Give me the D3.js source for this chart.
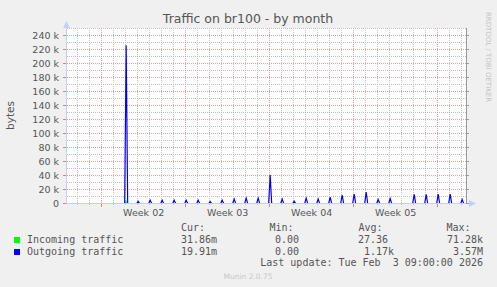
<!DOCTYPE html>
<html>
<head>
<meta charset="utf-8">
<script src="https://cdn.jsdelivr.net/npm/d3@7"></script>
<style>
  body { margin: 0; background: #f0f0f0; }
  text { font-family: "DejaVu Sans", sans-serif; fill: #555; }
  .mono { font-family: "DejaVu Sans Mono", monospace; }
</style>
</head>
<body>
<svg width="497" height="287"></svg>
<script>
// time window of the graph and week labels
var timeStart = new Date('2026-01-02T02:40:00Z'),
  timeEnd = new Date('2026-02-04T10:40:00Z');
var weekStarts = ['2026-01-05', '2026-01-12', '2026-01-19', '2026-01-26', '2026-02-02'];
var weekLabels = ['Week 02', 'Week 03', 'Week 04', 'Week 05'];
var yTicks = [0, 20000, 40000, 60000, 80000, 100000, 120000, 140000, 160000, 180000, 200000, 220000, 240000];

// daily peaks (at 01:00), bytes
var peakDays = ['01-07', '01-08', '01-09', '01-10', '01-11', '01-12', '01-13', '01-14', '01-15',
  '01-16', '01-17', '01-18', '01-19', '01-20', '01-21', '01-22', '01-23', '01-24', '01-25',
  '01-26', '01-27', '01-28', '01-29', '01-30', '01-31', '02-01', '02-02', '02-03', '02-04'];
var outgoing = [226000, 3000, 4800, 4800, 4800, 4800, 4800, 2900, 4800,
  6200, 7600, 7600, 40500, 6200, 3300, 7600, 6200, 9000, 11900,
  13300, 16200, 5700, 7100, 0, 12900, 12900, 13500, 13500, 5700];
var incoming = [3000, 0, 0, 0, 0, 0, 0, 0, 0,
  0, 0, 0, 0, 0, 0, 0, 0, 0, 0,
  0, 0, 0, 0, 0, 0, 0, 0, 0, 0];

var legendRows = [
  {name: 'Incoming traffic', color: '#00ff00', cur: '31.86m', min: '0.00', avg: '27.36', max: '71.28k'},
  {name: 'Outgoing traffic', color: '#0000ff', cur: '19.91m', min: '0.00', avg: ' 1.17k', max: ' 3.57M'}
];

var svg = d3.select('svg'),
  W = +svg.attr('width'),
  H = +svg.attr('height');

var x = d3.scaleUtc().domain([timeStart, timeEnd]).range([67, 467]);
var y = d3.scaleLinear().domain([0, 250000]).range([203.5, 28.5]);
var snap = function(v) { return Math.round(v - 0.5) + 0.5; };

// canvas
svg.append('rect').attr('x', 67).attr('y', 28).attr('width', 400).attr('height', 176).attr('fill', '#fff');

// grid
var grid = svg.append('g');
d3.range(10000, 250001, 10000).forEach(function(v) {
  var major = v % 20000 === 0;
  grid.append('line')
    .attr('x1', 67).attr('x2', 467).attr('y1', y(v)).attr('y2', y(v))
    .attr('stroke', major ? '#e3a0a0' : '#c0c0c0').attr('stroke-dasharray', '1,1');
});
var weekDates = weekStarts.map(function(s) { return new Date(s + 'T00:00:00Z'); });
d3.utcDay.range(d3.utcDay.ceil(timeStart), timeEnd).forEach(function(d) {
  var major = weekDates.some(function(w) { return +w === +d; });
  var xx = snap(x(d));
  grid.append('line')
    .attr('x1', xx).attr('x2', xx).attr('y1', 28).attr('y2', 203)
    .attr('stroke', major ? '#e3a0a0' : '#c0c0c0').attr('stroke-dasharray', '1,1');
  grid.append('line')
    .attr('x1', xx).attr('x2', xx).attr('y1', 204).attr('y2', major ? 207 : 205)
    .attr('stroke', major ? '#e08080' : '#c0c0c0');
});

// series
function series(vals) {
  var pts = [[timeStart, 0]];
  peakDays.forEach(function(d, i) {
    var t = new Date('2026-' + d + 'T01:00:00Z');
    pts.push([d3.utcHour.offset(t, -3), 0], [t, vals[i]], [d3.utcHour.offset(t, 3), 0]);
  });
  pts.push([timeEnd, 0]);
  return pts;
}
var line = d3.line().x(function(d) { return x(d[0]); }).y(function(d) { return y(d[1]); });
svg.append('path').datum(series(incoming)).attr('d', line)
  .attr('fill', 'none').attr('stroke', legendRows[0].color).attr('stroke-width', 1.2);
svg.append('path').datum(series(outgoing)).attr('d', line)
  .attr('fill', 'none').attr('stroke', legendRows[1].color).attr('stroke-width', 1.2);

// axes and frame
var axisCol = '#c8cff6';
svg.append('line').attr('x1', 66.5).attr('x2', 66.5).attr('y1', 26).attr('y2', 204).attr('stroke', axisCol);
svg.append('line').attr('x1', 66).attr('x2', 470).attr('y1', 203.5).attr('y2', 203.5).attr('stroke', axisCol);
svg.append('path').attr('d', 'M63,28L66.5,21L70,28Z').attr('fill', axisCol);
svg.append('path').attr('d', 'M469,200L476,203.5L469,207Z').attr('fill', axisCol);
svg.append('line').attr('x1', 466.5).attr('x2', 466.5).attr('y1', 28).attr('y2', 204).attr('stroke', '#999');
yTicks.forEach(function(v) {
  svg.append('line').attr('x1', 467).attr('x2', 469).attr('y1', snap(y(v))).attr('y2', snap(y(v))).attr('stroke', '#999');
  svg.append('line').attr('x1', 63).attr('x2', 66).attr('y1', snap(y(v))).attr('y2', snap(y(v))).attr('stroke', '#e08080');
});

// tick labels
svg.append('g').selectAll('text').data(yTicks).enter().append('text')
  .attr('x', 59).attr('y', function(d) { return y(d) + 3.5; })
  .attr('text-anchor', 'end').attr('font-size', 9.5)
  .text(function(d) { return d === 0 ? '0' : d / 1000 + ' k'; });
svg.append('g').selectAll('text').data(weekLabels).enter().append('text')
  .attr('x', function(d, i) { return x(new Date((+weekDates[i] + +weekDates[i + 1]) / 2)); })
  .attr('y', 216).attr('text-anchor', 'middle').attr('font-size', 9.5)
  .text(function(d) { return d; });

// titles
svg.append('text').attr('x', 248).attr('y', 23).attr('text-anchor', 'middle')
  .attr('font-size', 12.5).text('Traffic on br100 - by month');
svg.append('text').attr('transform', 'translate(14,115.5) rotate(-90)')
  .attr('text-anchor', 'middle').attr('font-size', 10.5).text('bytes');
svg.append('text').attr('transform', 'translate(486,57) rotate(90)')
  .attr('text-anchor', 'middle').attr('font-size', 7).style('fill', '#c4c4c4')
  .text('RRDTOOL / TOBI OETIKER');

// legend
var lg = svg.append('g').attr('class', 'mono').attr('font-size', 10);
var headers = [['Cur:', 181], ['Min:', 269.5], ['Avg:', 358.5], ['Max:', 446.5]];
headers.forEach(function(h) {
  lg.append('text').attr('class', 'mono').attr('x', h[1]).attr('y', 231).text(h[0]);
});
legendRows.forEach(function(r, i) {
  var yy = 243 + i * 12;
  lg.append('rect').attr('x', 14).attr('y', yy - 6).attr('width', 6).attr('height', 6).attr('fill', r.color);
  lg.append('text').attr('class', 'mono').attr('x', 27).attr('y', yy).text(r.name);
  lg.append('text').attr('class', 'mono').attr('x', 181).attr('y', yy).text(r.cur);
  lg.append('text').attr('class', 'mono').attr('x', 299).attr('y', yy).attr('text-anchor', 'end').text(r.min);
  lg.append('text').attr('class', 'mono').attr('x', 394).attr('y', yy).attr('text-anchor', 'end')
    .style('white-space', 'pre').text(r.avg + (r.avg.slice(-1) === 'k' ? '' : ' '));
  lg.append('text').attr('class', 'mono').attr('x', 483).attr('y', yy).attr('text-anchor', 'end')
    .style('white-space', 'pre').text(r.max);
});
lg.append('text').attr('class', 'mono').attr('x', 483).attr('y', 266).attr('text-anchor', 'end')
  .style('white-space', 'pre').text('Last update: Tue Feb  3 09:00:00 2026');
svg.append('text').attr('x', 248).attr('y', 279).attr('text-anchor', 'middle')
  .attr('font-size', 7.5).style('fill', '#c8c8c8').text('Munin 2.0.75');
</script>
</body>
</html>
